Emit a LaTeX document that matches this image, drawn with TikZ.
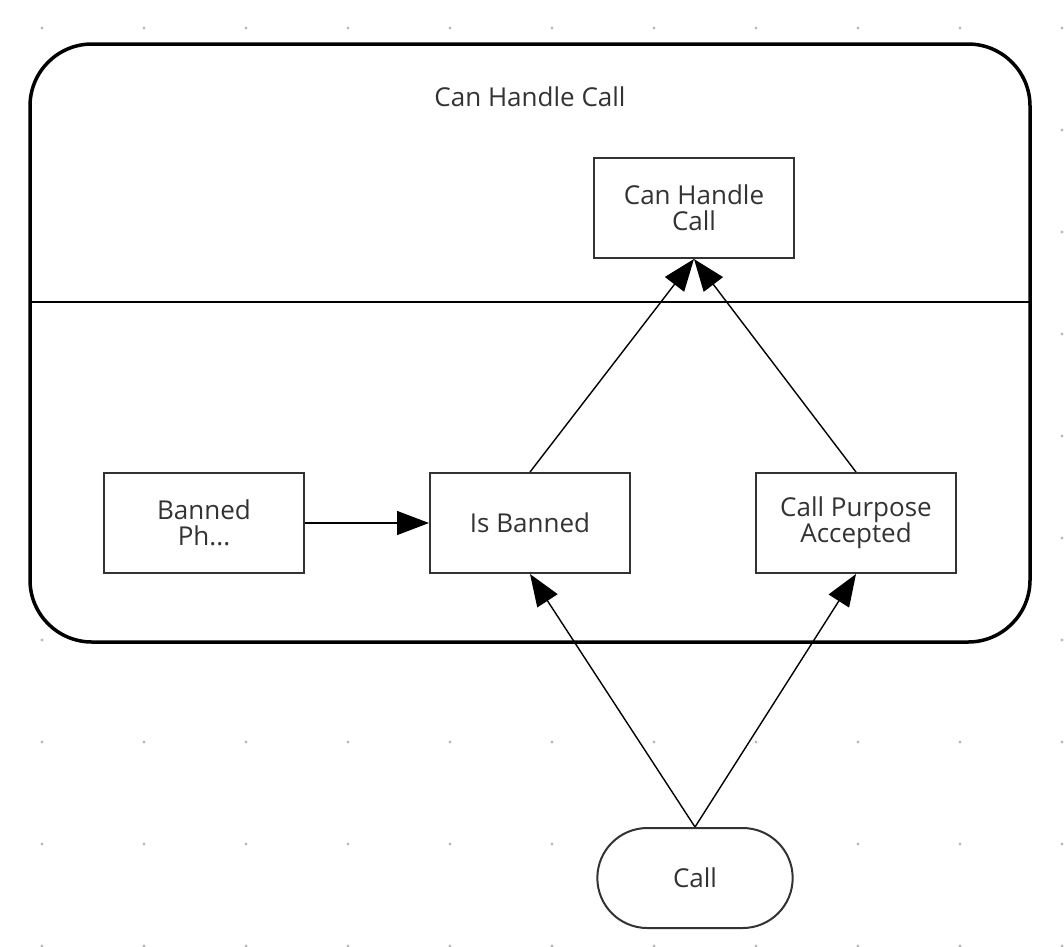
\documentclass[tikz,border=0pt]{standalone}
\usepackage{fontspec}
\setmainfont{Open Sans}
\usetikzlibrary{arrows.meta,shapes.misc}
\definecolor{ink}{HTML}{333333}
\tikzstyle{block} = [rectangle, draw=ink, line width=2pt, fill=white,
                 minimum width=200pt, minimum height=100pt, align=center,
                 text=ink, font=\fontsize{26}{26}\selectfont]
\tikzstyle{start} = [block, rounded rectangle, minimum width=202pt]
\tikzstyle{link} = [draw=black, line width=1.4pt, -{Triangle[length=32pt, width=24pt]}]

\begin{document}
\begin{tikzpicture}[x=1pt, y=-1pt]
\useasboundingbox (0,0) rectangle (1064,946);

    	%grid dots
\foreach \x in {42,144,...,1062}
	\foreach \y in {28,130,...,946}
		\fill[gray!55] (\x,\y) circle (1.6pt);

\draw[line width=3.5pt, fill=white, rounded corners=62pt] (30,44) rectangle (1030,642);
\draw[line width=1.4pt] (30,302) -- (1030,302);
\node [text=ink, font=\fontsize{26}{26}\selectfont] at (530,97) (title) {Can Handle Call};

\node [block] at (694,208) (handle) {Can Handle\\Call};
\node [block] at (204,523) (phrase) {Banned\\Ph...};
\node [block] at (530,523) (banned) {Is Banned};
\node [block] at (856,523) (purpose) {Call Purpose\\Accepted};
\node [start] at (695,878) (call) {Call};

\path[link] (phrase) -- (banned);
\path[link] (banned.north) -- (handle.south);
\path[link] (purpose.north) -- (handle.south);
\path[link] (call.north) -- (banned.south);
\path[link] (call.north) -- (purpose.south);

\end{tikzpicture}
\end{document}
